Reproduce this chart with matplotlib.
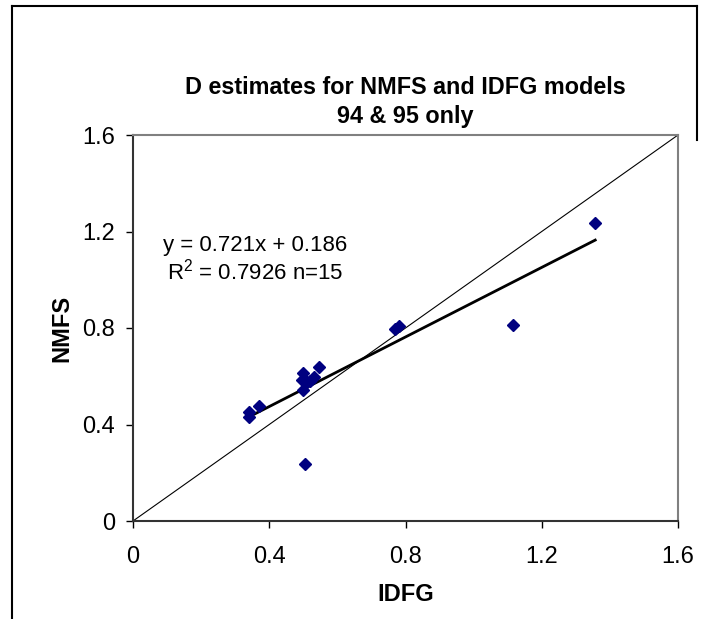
import numpy as np
import matplotlib.pyplot as plt
from matplotlib.lines import Line2D

plt.rcParams['font.family'] = ['Liberation Sans', 'DejaVu Sans']
plt.rcParams['mathtext.fontset'] = 'custom'
plt.rcParams['mathtext.rm'] = 'Liberation Sans'

# D estimates, 94 & 95 only
idfg = [0.34, 0.34, 0.37, 0.50, 0.545, 0.495, 0.51, 0.53, 0.50, 0.52,
        0.505, 0.77, 0.78, 1.115, 1.357]
nmfs = [0.45, 0.43, 0.475, 0.615, 0.64, 0.585, 0.575, 0.595, 0.545, 0.58,
        0.235, 0.795, 0.81, 0.812, 1.237]

slope = 0.721
intercept = 0.186
r2 = 0.7926

ticks = [0, 0.4, 0.8, 1.2, 1.6]
tick_labels = ['0', '0.4', '0.8', '1.2', '1.6']

fig = plt.figure(figsize=(7.01, 6.19), dpi=100)
W, H = 701, 619
ax = fig.add_axes([133 / W, 1 - 521 / H, 545 / W, 386 / H])

# 1:1 line
ax.plot([0, 1.6], [0, 1.6], color='black', lw=0.8)

# trend line over the data range
xs = np.array([min(idfg), max(idfg)])
ax.plot(xs, slope * xs + intercept, color='black', lw=2)

ax.plot(idfg, nmfs, 'D', color='#000080', markersize=6, zorder=3)

ax.set_xlim(0, 1.6)
ax.set_ylim(0, 1.6)
ax.set_xticks(ticks)
ax.set_xticklabels(tick_labels)
ax.set_yticks(ticks)
ax.set_yticklabels(tick_labels)
ax.tick_params(direction='out', length=5, width=1, labelsize=17)
ax.tick_params(axis='x', pad=13)
ax.tick_params(axis='y', pad=8)

for s in ['left', 'bottom']:
    ax.spines[s].set_color('#333333')
    ax.spines[s].set_linewidth(1.5)
for s in ['top', 'right']:
    ax.spines[s].set_color('#808080')
    ax.spines[s].set_linewidth(1.5)

ax.set_xlabel('IDFG', fontsize=17, fontweight='bold', labelpad=11)
ax.set_ylabel('NMFS', fontsize=17, fontweight='bold', labelpad=6)

ax.text(0.224, 0.715, 'y = %.3fx + %.3f' % (slope, intercept),
        transform=ax.transAxes, ha='center', va='center', fontsize=16)
ax.text(0.224, 0.645, 'R$^2$ = %.4f n=%d' % (r2, len(idfg)),
        transform=ax.transAxes, ha='center', va='center', fontsize=16)

fig.text(405 / W, 1 - 88 / H, 'D estimates for NMFS and IDFG models',
         ha='center', va='center', fontsize=16.8, fontweight='bold')
fig.text(405 / W, 1 - 116 / H, '94 & 95 only',
         ha='center', va='center', fontsize=16.8, fontweight='bold')

# chart area border (partly cut off)
fig.add_artist(Line2D([12 / W, 12 / W], [0, 1 - 6 / H], color='black', lw=1.5))
fig.add_artist(Line2D([12 / W, 697 / W], [1 - 6 / H, 1 - 6 / H], color='black', lw=1.5))
fig.add_artist(Line2D([697 / W, 697 / W], [1 - 6 / H, 1 - 140 / H], color='black', lw=1.5))

fig.savefig('out.png', dpi=100)
